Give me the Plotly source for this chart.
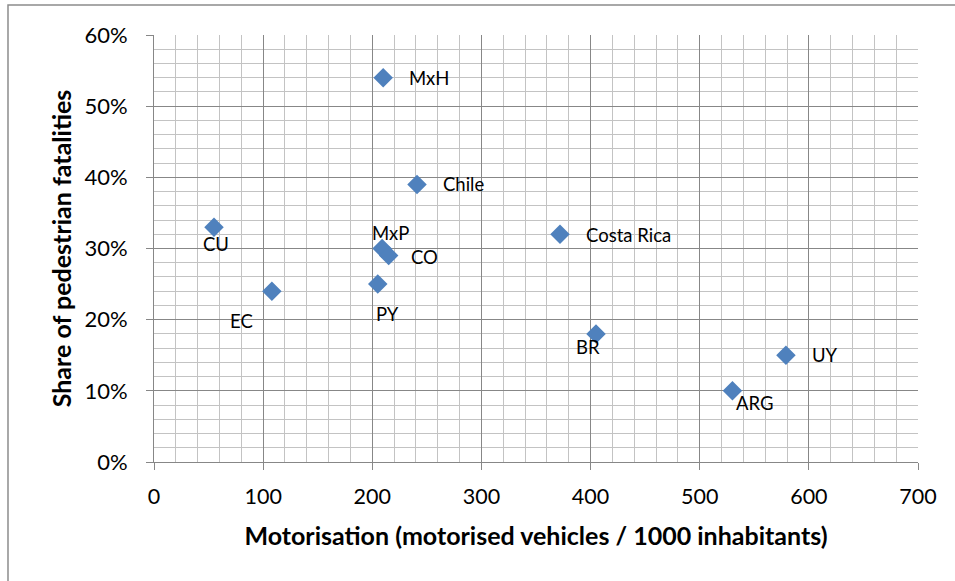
import plotly.graph_objects as go

countries = ["MxH", "Chile", "CU", "MxP", "CO", "EC", "PY", "Costa Rica", "BR", "UY", "ARG"]
motorisation = [210, 241, 55, 209, 215, 108, 205, 372, 405, 579, 530]
ped_share = [0.54, 0.39, 0.33, 0.30, 0.29, 0.24, 0.25, 0.32, 0.18, 0.15, 0.10]

# label placement (pixel offsets, anchors) - style only
label_style = {
    "MxH": dict(xanchor="left", yanchor="middle", xshift=24, yshift=0),
    "Chile": dict(xanchor="left", yanchor="middle", xshift=24, yshift=0),
    "CU": dict(xanchor="center", yanchor="middle", xshift=2, yshift=-17),
    "MxP": dict(xanchor="center", yanchor="middle", xshift=8, yshift=16),
    "CO": dict(xanchor="left", yanchor="middle", xshift=20, yshift=-1),
    "EC": dict(xanchor="center", yanchor="middle", xshift=-30, yshift=-30),
    "PY": dict(xanchor="center", yanchor="middle", xshift=10, yshift=-30),
    "Costa Rica": dict(xanchor="left", yanchor="middle", xshift=24, yshift=-1),
    "BR": dict(xanchor="center", yanchor="middle", xshift=-8, yshift=-13),
    "UY": dict(xanchor="left", yanchor="middle", xshift=24, yshift=0),
    "ARG": dict(xanchor="center", yanchor="middle", xshift=23, yshift=-12),
}

FONT = "Lato"
MAJOR = "#878787"
MINOR = "#c3c3c3"

fig = go.Figure()
fig.add_trace(go.Scatter(
    x=motorisation, y=ped_share, mode="markers",
    marker=dict(symbol="diamond", size=15, color="#4f81bd", line=dict(width=0)),
    hovertext=countries, showlegend=False,
))

annotations = []
for c, xv, yv in zip(countries, motorisation, ped_share):
    annotations.append(dict(x=xv, y=yv, text=c, showarrow=False,
                            font=dict(family=FONT, size=18.5, color="#000000"),
                            **label_style[c]))

fig.update_layout(
    width=955, height=581,
    margin=dict(l=154, r=37, t=35, b=119),
    paper_bgcolor="white", plot_bgcolor="white",
    font=dict(family=FONT, color="#000000"),
    annotations=annotations,
    xaxis=dict(
        range=[0, 700], dtick=100, tick0=0,
        showgrid=True, gridcolor=MAJOR, gridwidth=1,
        minor=dict(dtick=20, showgrid=True, gridcolor=MINOR, gridwidth=1),
        showline=True, linecolor=MAJOR, linewidth=1, mirror=False,
        ticks="outside", ticklen=7, tickcolor=MAJOR,
        tickfont=dict(family=FONT, size=21.5, color="#000000"),
        ticklabelstandoff=8,
        zeroline=False,
        title=dict(text="<b>Motorisation (motorised vehicles / 1000 inhabitants)</b>",
                   font=dict(family=FONT, size=25, color="#000000"), standoff=19),
    ),
    yaxis=dict(
        range=[0, 0.6], dtick=0.1, tick0=0, tickformat=".0%",
        showgrid=True, gridcolor=MAJOR, gridwidth=1,
        minor=dict(dtick=0.02, showgrid=True, gridcolor=MINOR, gridwidth=1),
        showline=True, linecolor=MAJOR, linewidth=1,
        ticks="outside", ticklen=7, tickcolor=MAJOR,
        tickfont=dict(family=FONT, size=22, color="#000000"),
        ticklabelstandoff=14,
        zeroline=False,
        title=dict(text="<b>Share of pedestrian fatalities</b>",
                   font=dict(family=FONT, size=25, color="#000000"), standoff=5),
    ),
    shapes=[dict(type="rect", xref="paper", yref="paper",
                 x0=-0.1911, x1=1.06, y0=-0.29, y1=1.0703,
                 line=dict(color="#8c8c8c", width=1.5), fillcolor="rgba(0,0,0,0)", layer="below")],
)

fig.write_html("out.html")
